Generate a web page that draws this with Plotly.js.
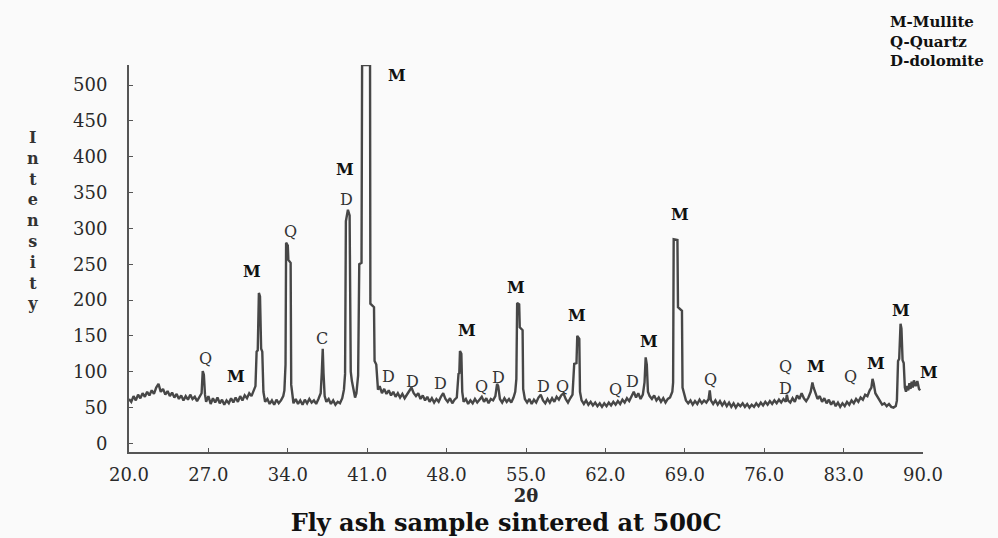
<!DOCTYPE html>
<html>
<head>
<meta charset="utf-8">
<script src="https://cdn.plot.ly/plotly-3.0.1.min.js"></script>
<style>
  html, body { margin: 0; padding: 0; background: #fafafa; }
  #chart { width: 998px; height: 538px; }
</style>
</head>
<body>
<div id="chart"></div>
<script>
const twoTheta = [
  20.0, 20.2, 20.4, 20.6, 20.8, 21.0, 21.2, 21.4, 21.6, 21.8,
  22.0, 22.2, 22.4, 22.6, 22.8, 23.0, 23.2, 23.4, 23.6, 23.8,
  24.0, 24.2, 24.4, 24.6, 24.8, 25.0, 25.2, 25.4, 25.6, 25.8,
  26.0, 26.2, 26.4, 26.5, 26.6, 26.7, 26.8, 27.0, 27.2, 27.4,
  27.6, 27.8, 28.0, 28.2, 28.4, 28.6, 28.8, 29.0, 29.2, 29.4,
  29.6, 29.8, 30.0, 30.2, 30.4, 30.6, 30.8, 31.0, 31.15, 31.25,
  31.35, 31.45, 31.55, 31.65, 31.75, 31.85, 32.0, 32.2, 32.4, 32.6,
  32.8, 33.0, 33.2, 33.4, 33.6, 33.7, 33.8, 33.85, 34.0, 34.05,
  34.25, 34.3, 34.4, 34.5, 34.7, 34.9, 35.1, 35.3, 35.5, 35.7,
  35.9, 36.1, 36.3, 36.5, 36.7, 36.9, 37.0, 37.08, 37.15, 37.25,
  37.4, 37.6, 37.8, 38.0, 38.2, 38.4, 38.6, 38.8, 38.95, 39.05,
  39.12, 39.3, 39.45, 39.55, 39.65, 39.8, 39.93, 40.05, 40.2, 40.3,
  40.5, 40.55, 41.25, 41.28, 41.6, 41.65, 41.8, 41.95, 42.1, 42.3,
  42.5, 42.7, 42.9, 43.1, 43.3, 43.5, 43.7, 43.9, 44.1, 44.3,
  44.5, 44.7, 44.9, 45.1, 45.3, 45.5, 45.7, 45.9, 46.1, 46.3,
  46.5, 46.7, 46.9, 47.1, 47.3, 47.5, 47.7, 47.9, 48.1, 48.3,
  48.5, 48.7, 48.9, 49.05, 49.12, 49.18, 49.3, 49.38, 49.5, 49.7,
  49.9, 50.1, 50.3, 50.5, 50.7, 50.9, 51.1, 51.3, 51.5, 51.7,
  51.9, 52.1, 52.3, 52.45, 52.55, 52.7, 52.9, 53.1, 53.3, 53.5,
  53.7, 53.9, 54.05, 54.15, 54.22, 54.4, 54.45, 54.7, 54.75, 54.9,
  55.1, 55.3, 55.5, 55.7, 55.9, 56.1, 56.3, 56.5, 56.7, 56.9,
  57.1, 57.3, 57.5, 57.7, 57.9, 58.1, 58.3, 58.5, 58.7, 58.9,
  59.1, 59.25, 59.45, 59.52, 59.7, 59.76, 59.9, 60.1, 60.3, 60.5,
  60.7, 60.9, 61.1, 61.3, 61.5, 61.7, 61.9, 62.1, 62.3, 62.5,
  62.7, 62.9, 63.1, 63.3, 63.5, 63.7, 63.9, 64.1, 64.3, 64.5,
  64.7, 64.9, 65.1, 65.3, 65.45, 65.55, 65.65, 65.75, 65.9, 66.1,
  66.3, 66.5, 66.7, 66.9, 67.1, 67.3, 67.5, 67.7, 67.9, 67.97,
  68.02, 68.35, 68.4, 68.75, 68.8, 68.95, 69.1, 69.3, 69.5, 69.7,
  69.9, 70.1, 70.3, 70.5, 70.7, 70.9, 71.1, 71.2, 71.3, 71.5,
  71.7, 71.9, 72.1, 72.3, 72.5, 72.7, 72.9, 73.1, 73.3, 73.5,
  73.7, 73.9, 74.1, 74.3, 74.5, 74.7, 74.9, 75.1, 75.3, 75.5,
  75.7, 75.9, 76.1, 76.3, 76.5, 76.7, 76.9, 77.1, 77.3, 77.5,
  77.7, 77.9, 78.0, 78.1, 78.3, 78.5, 78.7, 78.9, 79.1, 79.3,
  79.5, 79.7, 79.9, 80.1, 80.25, 80.35, 80.5, 80.7, 80.9, 81.1,
  81.3, 81.5, 81.7, 81.9, 82.1, 82.3, 82.5, 82.7, 82.9, 83.1,
  83.3, 83.5, 83.7, 83.9, 84.1, 84.3, 84.5, 84.7, 84.9, 85.1,
  85.3, 85.45, 85.55, 85.65, 85.8, 86.0, 86.2, 86.4, 86.6, 86.8,
  87.0, 87.2, 87.4, 87.6, 87.7, 87.8, 87.9, 88.02, 88.1, 88.2,
  88.3, 88.4, 88.5, 88.6, 88.7, 88.8, 88.9, 89.0, 89.1, 89.2,
  89.35, 89.5, 89.65, 89.75
];
const intensity = [
  62, 58, 66, 60, 68, 63, 70, 65, 72, 67,
  74, 69, 78, 83, 72, 76, 68, 73, 66, 71,
  64, 69, 62, 67, 60, 66, 61, 68, 62, 65,
  59, 64, 70, 101, 96, 68, 58, 66, 55, 63,
  57, 64, 56, 61, 54, 60, 56, 63, 57, 64,
  58, 66, 60, 67, 63, 70, 66, 74, 80, 128,
  130, 210, 205, 132, 128, 72, 58, 62, 55, 60,
  54, 61, 56, 60, 66, 74, 110, 280, 276, 256,
  252, 82, 70, 56, 62, 55, 60, 54, 61, 56,
  62, 57, 60, 55, 62, 70, 100, 132, 98, 66,
  58, 62, 55, 60, 54, 58, 56, 63, 75, 97,
  310, 326, 318, 100, 87, 72, 64, 70, 95, 250,
  252, 528, 528, 195, 190, 115, 110, 75, 80, 70,
  76, 69, 74, 67, 72, 65, 70, 64, 69, 63,
  68, 74, 78, 70, 66, 70, 62, 67, 60, 65,
  58, 63, 57, 62, 58, 65, 70, 62, 58, 63,
  56, 61, 64, 97, 98, 129, 125, 72, 58, 62,
  55, 60, 56, 62, 57, 61, 65, 58, 63, 56,
  62, 60, 66, 83, 80, 62, 57, 63, 58, 62,
  57, 64, 72, 90, 196, 194, 162, 158, 76, 62,
  57, 62, 55, 61, 57, 64, 68, 60, 56, 62,
  57, 63, 58, 65, 61, 67, 70, 62, 57, 63,
  68, 111, 112, 150, 146, 72, 60, 55, 60, 54,
  58, 53, 57, 52, 56, 51, 56, 52, 57, 53,
  58, 54, 59, 55, 61, 57, 63, 59, 66, 72,
  64, 70, 62, 68, 85, 120, 110, 72, 66, 62,
  67, 60, 64, 58, 63, 57, 62, 64, 72, 85,
  285, 284, 190, 185, 78, 68, 60, 56, 60, 54,
  59, 55, 61, 56, 60, 57, 62, 74, 60, 55,
  60, 54, 59, 53, 58, 52, 57, 51, 56, 50,
  55, 52, 56, 51, 55, 50, 54, 51, 56, 52,
  57, 53, 58, 54, 59, 55, 60, 56, 61, 57,
  62, 58, 68, 60, 57, 63, 58, 67, 62, 70,
  63, 59, 64, 72, 85, 78, 70, 62, 66, 58,
  63, 56, 61, 54, 59, 52, 57, 51, 56, 52,
  58, 54, 60, 56, 62, 58, 64, 61, 68, 66,
  74, 78, 90, 84, 70, 64, 58, 54, 56, 52,
  55, 51, 50, 52, 60, 115, 118, 167, 160, 116,
  112, 78, 72, 80, 74, 84, 76, 86, 78, 88,
  80, 87, 76, 74
];
const xTickVals = [20, 27, 34, 41, 48, 55, 62, 69, 76, 83, 90];
const xTickText = ["20.0", "27.0", "34.0", "41.0", "48.0", "55.0", "62.0", "69.0", "76.0", "83.0", "90.0"];
const yTickVals = [0, 50, 100, 150, 200, 250, 300, 350, 400, 450, 500];

// Phase labels over the peaks
const peakLabelText = ["Q", "M", "M", "Q", "C", "M", "D", "M", "D", "D", "D", "M", "Q", "D", "M", "D", "Q", "M", "Q", "D", "M", "M", "Q", "Q", "D", "M", "Q", "M", "M", "M"];
const peakLabelX = [26.7, 29.4, 30.85, 34.2, 37.0, 39.05, 39.2, 43.6, 42.9, 45.0, 47.5, 49.8, 51.1, 52.6, 54.1, 56.5, 58.2, 59.5, 62.9, 64.4, 65.8, 68.6, 71.3, 77.9, 77.9, 80.6, 83.6, 85.9, 88.1, 90.0];
const peakLabelY = [118, 93, 240, 296, 146, 382, 340, 514, 93, 86, 83, 157, 79, 92, 217, 79, 79, 179, 75, 87, 142, 319, 89, 107, 77, 107, 93, 112, 185, 99];

const legendLines = ["M-Mullite", "Q-Quartz", "D-dolomite"];

// ---- Build ----
const trace = {
  x: twoTheta,
  y: intensity,
  type: "scatter",
  mode: "lines",
  line: { color: "#474747", width: 2.4 },
  hoverinfo: "x+y",
  showlegend: false
};

const annotations = peakLabelText.map((t, i) => {
  const bold = t === "M";
  return {
    x: peakLabelX[i],
    y: peakLabelY[i],
    xref: "x", yref: "y",
    text: bold ? "<b>" + t + "</b>" : t,
    showarrow: false,
    xshift: peakLabelX[i] >= 90 ? 6 : 0,
    borderpad: 0,
    font: {
      family: "DejaVu Serif",
      size: bold ? 16 : 16,
      color: bold ? "#111" : "#333"
    }
  };
});

annotations.push({
  xref: "paper", yref: "paper",
  x: 0.956, y: 1.14,
  xanchor: "left", yanchor: "top",
  align: "left",
  showarrow: false,
  text: legendLines.map(s => "<b>" + s + "</b>").join("<br>"),
  font: { family: "DejaVu Serif", size: 15, color: "#111" }
});

annotations.push({
  xref: "paper", yref: "paper",
  x: -0.121, y: 0.597,
  xanchor: "center", yanchor: "middle",
  align: "center",
  showarrow: false,
  text: "<b>" + "Intensity".split("").join("<br>") + "</b>",
  font: { family: "DejaVu Serif", size: 16, color: "#333" }
});

const layout = {
  width: 998,
  height: 538,
  margin: { l: 129, r: 75, t: 65, b: 86 },
  paper_bgcolor: "#fafafa",
  plot_bgcolor: "#fafafa",
  title: {
    text: "<b>Fly ash sample sintered at 500C</b>",
    font: { family: "DejaVu Serif", size: 24, color: "#111" },
    x: 0.475, xanchor: "center",
    y: 0.028, yanchor: "middle",
    xref: "paper", yref: "container"
  },
  xaxis: {
    range: [20, 90],
    tickvals: xTickVals,
    ticktext: xTickText,
    ticks: "inside",
    ticklen: 4,
    tickcolor: "#555",
    showline: true,
    linecolor: "#555",
    linewidth: 2,
    showgrid: false,
    zeroline: false,
    ticklabelstandoff: 5,
    tickfont: { family: "DejaVu Serif", size: 18, color: "#2a2a2a" },
    title: {
      text: "<b>2θ</b>",
      standoff: 0,
      font: { family: "DejaVu Serif", size: 18, color: "#2a2a2a" }
    }
  },
  yaxis: {
    range: [-12, 528],
    tickvals: yTickVals,
    ticks: "inside",
    ticklen: 4,
    tickcolor: "#555",
    showline: true,
    linecolor: "#555",
    linewidth: 2,
    showgrid: false,
    zeroline: false,
    ticklabelstandoff: 16,
    tickfont: { family: "DejaVu Serif", size: 18, color: "#2a2a2a" }
  },
  annotations: annotations
};

Plotly.newPlot("chart", [trace], layout, { displayModeBar: false, staticPlot: true });
</script>
</body>
</html>
